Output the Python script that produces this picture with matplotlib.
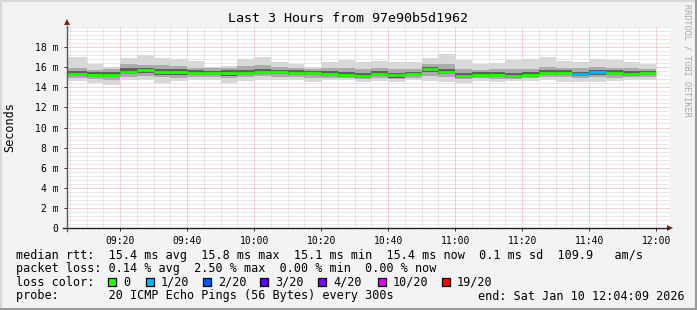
import numpy as np
import matplotlib
matplotlib.use("Agg")
import matplotlib.pyplot as plt
from matplotlib.patches import Rectangle, Polygon
from matplotlib.lines import Line2D

# ---------------- data ----------------
title = "Last 3 Hours from 97e90b5d1962"
# 5-minute bins, end time of each bin (minutes after 09:00)
bin_end_min = [10, 15, 20, 25, 30, 35, 40, 45, 50, 55, 60, 65, 70, 75, 80, 85, 90, 95,
               100, 105, 110, 115, 120, 125, 130, 135, 140, 145, 150, 155, 160, 165,
               170, 175, 180]
# median rtt (ms)
median_ms = [15.35, 15.25, 15.25, 15.55, 15.69, 15.55, 15.52, 15.45, 15.45, 15.45, 15.45,
             15.55, 15.55, 15.45, 15.45, 15.32, 15.22, 15.12, 15.35, 15.19, 15.32, 15.82,
             15.55, 15.15, 15.25, 15.25, 15.15, 15.25, 15.45, 15.45, 15.32, 15.49, 15.45,
             15.35, 15.44]
# packet loss (%) per bin
loss_pct = [0, 0, 0, 0, 0, 0, 0, 0, 0, 0, 0, 0, 0, 0, 0, 0, 0, 0, 0, 0, 0, 0, 0, 0, 0,
            0, 0, 0, 0, 0, 2.5, 2.5, 0, 0, 0]
# smoke: spread of the 20 pings per bin (ms)
smoke_max = [17.05, 16.30, 16.05, 16.95, 17.20, 16.95, 16.80, 16.60, 16.05, 16.15, 16.80,
             17.00, 16.55, 16.30, 16.05, 16.55, 16.70, 16.50, 16.60, 16.55, 16.50, 16.95,
             17.28, 16.70, 16.30, 16.40, 16.70, 16.80, 17.00, 16.60, 16.55, 16.80, 16.70,
             16.55, 16.30]
smoke_min = [14.63, 14.46, 14.23, 14.73, 14.73, 14.46, 14.63, 14.73, 14.73, 14.46, 14.63,
             14.73, 14.73, 14.73, 14.56, 14.73, 14.73, 14.56, 14.63, 14.56, 14.73, 14.63,
             14.56, 14.46, 14.63, 14.56, 14.63, 14.63, 14.73, 14.56, 14.56, 14.56, 14.63,
             14.73, 14.73]
smoke_q3 = [15.95, 15.75, 15.80, 16.30, 16.25, 16.20, 16.10, 15.95, 15.90, 15.95, 16.10,
            16.20, 16.05, 15.95, 15.85, 15.90, 15.95, 15.80, 15.90, 15.85, 15.85, 16.35,
            16.30, 15.80, 15.75, 15.80, 15.80, 15.85, 16.05, 15.95, 15.90, 16.05, 15.95,
            15.90, 15.85]
smoke_q1 = [14.95, 14.85, 14.70, 15.05, 15.15, 15.00, 14.95, 15.00, 15.05, 14.95, 15.00,
            15.10, 15.05, 15.00, 14.95, 14.95, 14.90, 14.85, 14.95, 14.85, 14.95, 15.10,
            15.00, 14.80, 14.90, 14.85, 14.85, 14.90, 15.00, 15.00, 14.95, 15.00, 14.95,
            15.00, 15.00]
core_hi = [15.60, 15.50, 15.50, 15.90, 15.90, 15.85, 15.80, 15.70, 15.65, 15.70, 15.75,
           15.80, 15.75, 15.70, 15.65, 15.60, 15.50, 15.45, 15.60, 15.45, 15.55, 16.05,
           15.85, 15.40, 15.50, 15.50, 15.45, 15.50, 15.70, 15.70, 15.55, 15.70, 15.70,
           15.60, 15.65]
core_lo = [15.15, 15.05, 15.00, 15.30, 15.40, 15.25, 15.20, 15.20, 15.20, 15.15, 15.20,
           15.30, 15.30, 15.20, 15.20, 15.10, 15.00, 14.95, 15.10, 14.95, 15.10, 15.55,
           15.30, 14.95, 15.05, 15.00, 14.95, 15.00, 15.20, 15.20, 15.10, 15.20, 15.20,
           15.10, 15.20]

y_ticks = [0, 2, 4, 6, 8, 10, 12, 14, 16, 18]
y_tick_labels = ["0", "2 m", "4 m", "6 m", "8 m", "10 m", "12 m", "14 m", "16 m", "18 m"]
x_ticks_min = [20, 40, 60, 80, 100, 120, 140, 160, 180]
x_tick_labels = ["09:20", "09:40", "10:00", "10:20", "10:40", "11:00", "11:20", "11:40", "12:00"]

loss_levels = ["0", "1/20", "2/20", "3/20", "4/20", "10/20", "19/20"]
loss_colors = ["#26ff00", "#00b8ff", "#0059ff", "#5e00ff", "#7e00ff", "#dd00ff", "#ff0000"]

legend_rtt = "median rtt:  15.4 ms avg  15.8 ms max  15.1 ms min  15.4 ms now  0.1 ms sd  109.9   am/s"
legend_loss = "packet loss: 0.14 % avg  2.50 % max  0.00 % min  0.00 % now"
legend_probe = "probe:       20 ICMP Echo Pings (56 Bytes) every 300s"
legend_end = "end: Sat Jan 10 12:04:09 2026"

# ---------------- figure ----------------
W, H = 697, 310
MONO = "DejaVu Sans Mono"
plt.rcParams["font.family"] = MONO
fig = plt.figure(figsize=(W / 100, H / 100), dpi=100)
fig.patch.set_facecolor("#f3f3f3")

def fx(px):
    return px / W

def fy(py):
    return 1 - py / H

# 3D-ish border
fig.add_artist(Line2D([0, 1], [fy(0.5), fy(0.5)], color="#d8d8d8", lw=1.5))
fig.add_artist(Line2D([fx(0.5), fx(0.5)], [0, 1], color="#d8d8d8", lw=1.5))
fig.add_artist(Line2D([0, 1], [fy(H - 1), fy(H - 1)], color="#9a9a9a", lw=2.2))
fig.add_artist(Line2D([fx(W - 1), fx(W - 1)], [0, 1], color="#9a9a9a", lw=2.2))

L, R, T, B = 67, 670, 27, 228
ax = fig.add_axes([fx(L), fy(B), (R - L) / W, (B - T) / H])
ax.set_facecolor("white")
x0 = 4 + 9 / 60
ax.set_xlim(x0, x0 + 180)
ax.set_ylim(0, 20)
for s in ax.spines.values():
    s.set_visible(False)

# grid
ax.set_xticks(x_ticks_min)
ax.set_xticks(np.arange(5, 185, 5), minor=True)
ax.set_yticks(y_ticks)
ax.set_yticks(np.arange(0, 20.01, 0.4), minor=True)
ax.grid(which="minor", color="#d0d0d0", lw=0.72, linestyle=(0, (1, 1)))
ax.grid(which="major", color="#f5a3a3", lw=0.72, linestyle=(0, (1, 1)))
ax.set_axisbelow(True)

ax.set_xticklabels(x_tick_labels, fontsize=7, family=MONO)
ax.set_yticklabels(y_tick_labels, fontsize=7, family=MONO)
ax.tick_params(which="major", axis="y", length=2.2, width=0.7, pad=4, color="#333333")
ax.tick_params(which="major", axis="x", length=2.2, width=0.7, pad=3.2, color="#333333")
ax.tick_params(which="minor", length=0)

# smoke + median
edges = np.array([x0] + bin_end_min[:-1] + [bin_end_min[-1]], dtype=float)
ax.stairs(smoke_max, edges, baseline=smoke_min, fill=True, color="#d8d8d8", lw=0, zorder=2)
ax.stairs(smoke_q3, edges, baseline=smoke_q1, fill=True, color="#ababab", lw=0, zorder=3)
ax.stairs(core_hi, edges, baseline=core_lo, fill=True, color="#606060", lw=0, zorder=4)

def loss_color(p):
    if p <= 0:
        return loss_colors[0]
    return loss_colors[1]

for i, m in enumerate(median_ms):
    ax.plot([edges[i], edges[i + 1]], [m, m], color=loss_color(loss_pct[i]),
            lw=1.9, solid_capstyle="butt", zorder=6)

# axes lines with arrows
fig.add_artist(Line2D([fx(63), fx(668)], [fy(B), fy(B)], color="#222222", lw=1.0))
fig.add_artist(Line2D([fx(L), fx(L)], [fy(B + 3), fy(T - 1)], color="#555555", lw=1.0))
fig.add_artist(Polygon([[fx(667), fy(B - 3)], [fx(667), fy(B + 3)], [fx(673), fy(B)]],
                       closed=True, color="#8a1c1c", lw=0))
fig.add_artist(Polygon([[fx(L - 3), fy(T - 2)], [fx(L + 3), fy(T - 2)], [fx(L), fy(T - 8)]],
                       closed=True, color="#8a1c1c", lw=0))

# texts
fig.text(fx(348), fy(19), title, ha="center", va="center", fontsize=9.6, family=MONO)
fig.text(fx(10), fy(127.5), "Seconds", ha="center", va="center", rotation=90,
         fontsize=8.5, family=MONO)
fig.text(fx(687), fy(60), "RRDTOOL / TOBI OETIKER", ha="center", va="center",
         rotation=270, fontsize=6.1, family=MONO, color="#a8a8a8")

fs = 8.5
fig.text(fx(16), fy(255), legend_rtt, ha="left", va="center", fontsize=fs, family=MONO)
fig.text(fx(16), fy(268.5), legend_loss, ha="left", va="center", fontsize=fs, family=MONO)
fig.text(fx(16), fy(282), "loss color:", ha="left", va="center", fontsize=fs, family=MONO)
sq_x = [108, 146, 203, 260, 318, 378, 442]
for sx, lab, col in zip(sq_x, loss_levels, loss_colors):
    fig.add_artist(Rectangle((fx(sx), fy(286)), 8 / W, 8 / H, facecolor=col,
                             edgecolor="black", lw=0.9))
    fig.text(fx(sx + 15), fy(282), lab, ha="left", va="center", fontsize=fs, family=MONO)
fig.text(fx(16), fy(296), legend_probe, ha="left", va="center", fontsize=fs, family=MONO)
fig.text(fx(478), fy(296), legend_end, ha="left", va="center", fontsize=fs, family=MONO)

fig.savefig("out.png", dpi=100, facecolor=fig.get_facecolor())
